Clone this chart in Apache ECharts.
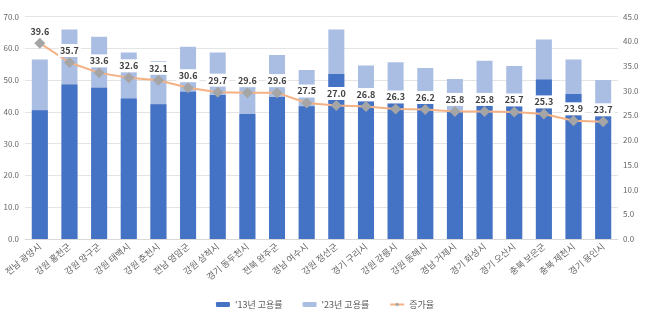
<!DOCTYPE html>
<html><head><meta charset="utf-8">
<script src="https://cdn.jsdelivr.net/npm/echarts@6/dist/echarts.min.js"></script>
<style>html,body{margin:0;padding:0;background:#fff}#c{width:650px;height:328px}</style>
</head><body><div id="c"></div>
<script>
const categories = ['전남 광양시','강원 홍천군','강원 양구군','강원 태백시','강원 춘천시','전남 영암군','강원 삼척시','경기 동두천시','전북 완주군','경남 여수시','강원 정선군','경기 구리시','강원 강릉시','강원 동해시','경남 거제시','경기 화성시','경기 오산시','충북 보은군','충북 제천시','경기 용인시'];
const rate13 = [40.5,48.6,47.6,44.2,42.4,46.3,45.3,39.3,44.7,41.8,51.9,43.2,44.0,42.6,40.0,44.6,43.3,50.2,45.6,40.4];
const rate23 = [56.5,65.9,63.6,58.7,56.0,60.5,58.7,50.9,57.9,53.2,65.9,54.6,55.6,53.8,50.3,56.1,54.4,62.8,56.5,50.0];
const growth = [39.6,35.7,33.6,32.6,32.1,30.6,29.7,29.6,29.6,27.5,27.0,26.8,26.3,26.2,25.8,25.8,25.7,25.3,23.9,23.7];
const leftTicks = {min:0, max:70, interval:10};
const rightTicks = {min:0, max:45, interval:5};
const names = ["'13년 고용률","'23년 고용률","증가율"];

const font = 'Noto Sans CJK KR';
const chart = echarts.init(document.getElementById('c'));
chart.setOption({
  animation:false,
  textStyle:{fontFamily:font},
  grid:{left:25,right:32,top:16.5,bottom:89,containLabel:false},
  legend:{data:names,bottom:14,left:'center',itemWidth:14,itemHeight:5,itemGap:20,
    textStyle:{fontSize:9,color:'#595959',fontFamily:font}},
  xAxis:{type:'category',data:categories,
    axisLine:{lineStyle:{color:'#D9D9D9'}},axisTick:{show:false},
    axisLabel:{rotate:40,interval:0,fontSize:9,color:'#666666',margin:6,fontFamily:font}},
  yAxis:[
    {type:'value',min:leftTicks.min,max:leftTicks.max,interval:leftTicks.interval,
     axisLabel:{formatter:v=>v.toFixed(1),fontSize:8,color:'#666666',margin:6},
     splitLine:{lineStyle:{color:'#E4E4E4'}},axisLine:{show:false},axisTick:{show:false}},
    {type:'value',min:rightTicks.min,max:rightTicks.max,interval:rightTicks.interval,
     axisLabel:{formatter:v=>v.toFixed(1),fontSize:8,color:'#666666',margin:5},
     splitLine:{show:false},axisLine:{show:false},axisTick:{show:false}}
  ],
  series:[
    {name:names[0],type:'bar',data:rate13,barWidth:'54%',barGap:'-100%',z:3,
     itemStyle:{color:'#4472C4'}},
    {name:names[1],type:'bar',data:rate23,barWidth:'54%',barGap:'-100%',z:2,
     itemStyle:{color:'#AABEE3'}},
    {name:names[2],type:'line',yAxisIndex:1,data:growth,z:5,
     symbol:'diamond',symbolSize:11,
     lineStyle:{color:'#F4B183',width:2},itemStyle:{color:'#A5A5A5'},
     label:{show:true,position:'top',distance:0,formatter:p=>p.value.toFixed(1),
       fontSize:9,fontWeight:'bold',color:'#404040',backgroundColor:'#fff',padding:[2,2]}}
  ]
});
</script></body></html>
